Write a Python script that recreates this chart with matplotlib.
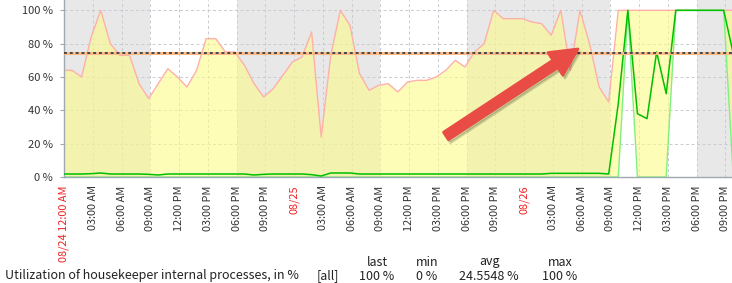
import numpy as np
import matplotlib
matplotlib.use('Agg')
import matplotlib.pyplot as plt
from matplotlib.patches import FancyArrow
from matplotlib.transforms import IdentityTransform

plt.rcParams['font.family'] = ['Noto Sans CJK SC', 'DejaVu Sans']

# ==================== 数据 ====================
# 每小时一个采样点 (xx:50), 单位 %
max_vals = [64, 64, 60, 84, 100, 80, 73, 73, 56, 47,
            56, 65, 60, 54, 64, 83, 83, 75, 75, 67,
            56, 48, 53, 61, 69, 72, 87, 24, 73, 100,
            91, 62, 52, 55, 56, 51, 57, 58, 58, 60,
            64, 70, 66, 75, 80, 100, 95, 95, 95, 93,
            92, 85, 100, 64, 100, 80, 54, 45, 100, 100,
            100, 100, 100, 100, 100, 100, 100, 100, 100, 100,
            100]
avg_vals = [1.8, 1.8, 1.8, 2.0, 2.4, 1.8, 1.8, 1.8, 1.8, 1.6,
            1.2, 1.8, 1.8, 1.8, 1.8, 1.8, 1.8, 1.8, 1.8, 1.8,
            1.2, 1.6, 1.8, 1.8, 1.8, 1.8, 1.4, 0.6, 2.4, 2.4,
            2.4, 1.8, 1.8, 1.8, 1.8, 1.8, 1.8, 1.8, 1.8, 1.8,
            1.8, 1.8, 1.8, 1.8, 1.8, 1.8, 1.8, 1.8, 1.8, 1.8,
            1.8, 2.2, 2.2, 2.2, 2.2, 2.2, 2.2, 1.8, 44, 100,
            38, 35, 75, 50, 100, 100, 100, 100, 100, 100,
            74]
min_vals = [0] * 58 + [0, 100, 0, 0, 0, 0, 100, 100, 100, 100, 100, 100, 0]

trigger_level = 74.6
# 非工作时间 (小时)
off_hours = [(0, 9), (18, 33), (42, 57), (66, 72)]

tick_hours = list(range(0, 70, 3))
tick_labels = ['08/24 12:00 AM', '03:00 AM', '06:00 AM', '09:00 AM', '12:00 PM', '03:00 PM',
               '06:00 PM', '09:00 PM', '08/25', '03:00 AM', '06:00 AM', '09:00 AM',
               '12:00 PM', '03:00 PM', '06:00 PM', '09:00 PM', '08/26', '03:00 AM',
               '06:00 AM', '09:00 AM', '12:00 PM', '03:00 PM', '06:00 PM', '09:00 PM']
date_labels = ['08/24 12:00 AM', '08/25', '08/26']

item_name = 'Utilization of housekeeper internal processes, in %'
stat_names = ['last', 'min', 'avg', 'max']
stat_values = ['100 %', '0 %', '24.5548 %', '100 %']

hours = np.arange(len(max_vals)) - 10 / 60

# ==================== 绘图 ====================
W, H = 732, 283
fig = plt.figure(figsize=(W / 100, H / 100), dpi=100)
ax = fig.add_axes([64 / W, (H - 177) / H, (W - 64) / W, 177 / H])

for a, b in off_hours:
    ax.axvspan(a, b, color='#e8e8e8', lw=0, zorder=0.1)

ax.set_axisbelow(True)
ax.grid(True, color='#c9cdd3', linestyle=(0, (3, 2.5)), lw=0.72)

ax.fill_between(hours, min_vals, max_vals, color='#fcfc8a', alpha=0.6, lw=0, zorder=1)
ax.plot(hours, max_vals, color='#ffb0a8', lw=1, zorder=2)
ax.plot(hours, min_vals, color='#80f080', lw=1, zorder=2)
ax.plot(hours, avg_vals, color='#00c000', lw=1.1, zorder=3)

ax.axhline(trigger_level, color='#ffbb88', lw=2.2, zorder=4)
ax.axhline(trigger_level, color='#484848', lw=1.4, linestyle=(0, (1.5, 1.5)), zorder=5)

ax.set_xlim(0, 69.7)
ax.set_ylim(0, 106.2)

ax.set_yticks([0, 20, 40, 60, 80, 100])
ax.set_yticklabels(['0 %', '20 %', '40 %', '60 %', '80 %', '100 %'])
ax.tick_params(axis='y', length=3, color='#a0a8b0', labelsize=8, labelcolor='#333333', pad=5)

ax.set_xticks(tick_hours)
ax.set_xticklabels(tick_labels, rotation=90, va='top', ha='center')
ax.tick_params(axis='x', length=0, labelsize=7.9, labelcolor='#333333', pad=6)
for lbl in ax.get_xticklabels():
    if lbl.get_text() in date_labels:
        lbl.set_color('#ee2222')

for s in ['top', 'right']:
    ax.spines[s].set_visible(False)
for s in ['left', 'bottom']:
    ax.spines[s].set_color('#a0a8b0')
    ax.spines[s].set_linewidth(1)

# 图例/统计
def px(x, y):
    return x / W, (H - y) / H

fig.text(*px(5, 276), item_name, fontsize=9, color='#222222', va='center', ha='left')
fig.text(*px(328, 276), '[all]', fontsize=9, color='#222222', va='center', ha='center')
for xc, name, val in zip([377, 427, 489, 560], stat_names, stat_values):
    fig.text(*px(xc, 262), name, fontsize=9, color='#222222', va='center', ha='center')
    fig.text(*px(xc, 277), val, fontsize=9, color='#222222', va='center', ha='center')

# 红色箭头
x0, y0 = 446, H - 136
x1, y1 = 578, H - 49
shadow = FancyArrow(x0 + 2, y0 - 3, x1 - x0, y1 - y0, width=9, head_width=27, head_length=27,
                    length_includes_head=True, transform=IdentityTransform(),
                    color='#000000', alpha=0.15, lw=2, joinstyle='round', capstyle='round')
arrow = FancyArrow(x0, y0, x1 - x0, y1 - y0, width=9, head_width=27, head_length=27,
                   length_includes_head=True, transform=IdentityTransform(),
                   facecolor='#e84c45', edgecolor='#e84c45', lw=2, joinstyle='round', capstyle='round')
fig.add_artist(shadow)
fig.add_artist(arrow)

fig.savefig('out.png', dpi=100)
